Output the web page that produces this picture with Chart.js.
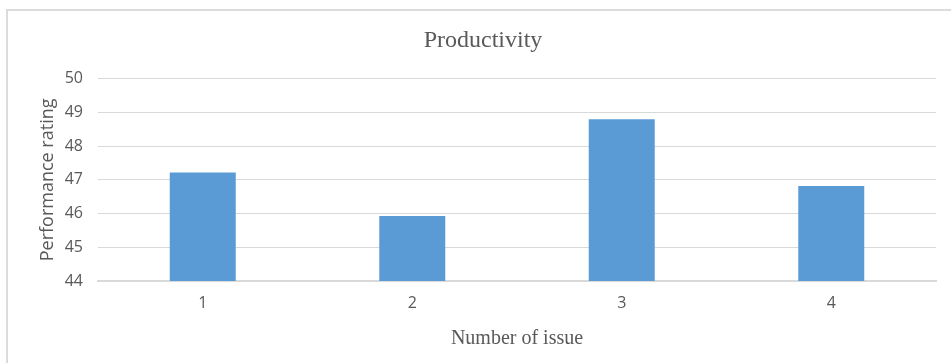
<!DOCTYPE html>
<html>
<head>
<meta charset="utf-8">
<script src="https://cdn.jsdelivr.net/npm/chart.js@4/dist/chart.umd.min.js"></script>
<style>
  html, body { margin: 0; padding: 0; background: #ffffff; }
  #wrap { position: relative; width: 951px; height: 363px; }
</style>
</head>
<body>
<div id="wrap"><canvas id="chart" width="951" height="363"></canvas></div>
<script>
// Chart data
const issues = ['1', '2', '3', '4'];
const ratings = [47.22, 45.93, 48.80, 46.82];
const yTicks = [44, 45, 46, 47, 48, 49, 50];

const TEXT = '#595959';
const GRID = '#d9d9d9';

// Light frame along the top and left edges of the chart
const framePlugin = {
  id: 'frame',
  beforeDraw(chart) {
    const ctx = chart.ctx;
    ctx.save();
    ctx.strokeStyle = '#dcdcdc';
    ctx.lineWidth = 2;
    ctx.beginPath();
    ctx.moveTo(7, 363);
    ctx.lineTo(7, 10);
    ctx.lineTo(951, 10);
    ctx.stroke();
    ctx.restore();
  }
};

new Chart(document.getElementById('chart'), {
  type: 'bar',
  data: {
    labels: issues,
    datasets: [{
      data: ratings,
      backgroundColor: '#5b9bd5',
      borderWidth: 0,
      categoryPercentage: 1,
      barPercentage: 0.315
    }]
  },
  options: {
    responsive: false,
    animation: false,
    layout: { padding: { left: 30, right: 15, top: 0, bottom: 0 } },
    plugins: {
      legend: { display: false },
      tooltip: { enabled: false },
      title: {
        display: true,
        text: 'Productivity',
        color: TEXT,
        font: { family: '"Liberation Serif", "Times New Roman", serif', size: 24, weight: 'normal' },
        padding: { top: 26, bottom: 24 }
      }
    },
    scales: {
      x: {
        grid: { display: false, drawTicks: false },
        border: { display: true, color: GRID, width: 2 },
        ticks: {
          color: TEXT,
          font: { family: '"Open Sans", sans-serif', size: 16 },
          padding: 13
        },
        title: {
          display: true,
          text: 'Number of issue',
          color: TEXT,
          font: { family: '"Liberation Serif", "Times New Roman", serif', size: 20 },
          padding: { top: 0, bottom: 12 }
        },
        afterFit(scale) { scale.height = 82; }
      },
      y: {
        min: 44,
        max: 50,
        afterBuildTicks(scale) { scale.ticks = yTicks.map(v => ({ value: v })); },
        grid: { color: GRID, lineWidth: 1, drawTicks: false },
        border: { display: false },
        ticks: {
          color: TEXT,
          font: { family: '"Open Sans", sans-serif', size: 16 },
          padding: 15
        },
        title: {
          display: true,
          text: 'Performance rating',
          color: TEXT,
          font: { family: '"Open Sans", sans-serif', size: 18 },
          padding: { top: 7, bottom: 0 }
        },
        afterFit(scale) { scale.width = 68; }
      }
    }
  },
  plugins: [framePlugin]
});
</script>
</body>
</html>
